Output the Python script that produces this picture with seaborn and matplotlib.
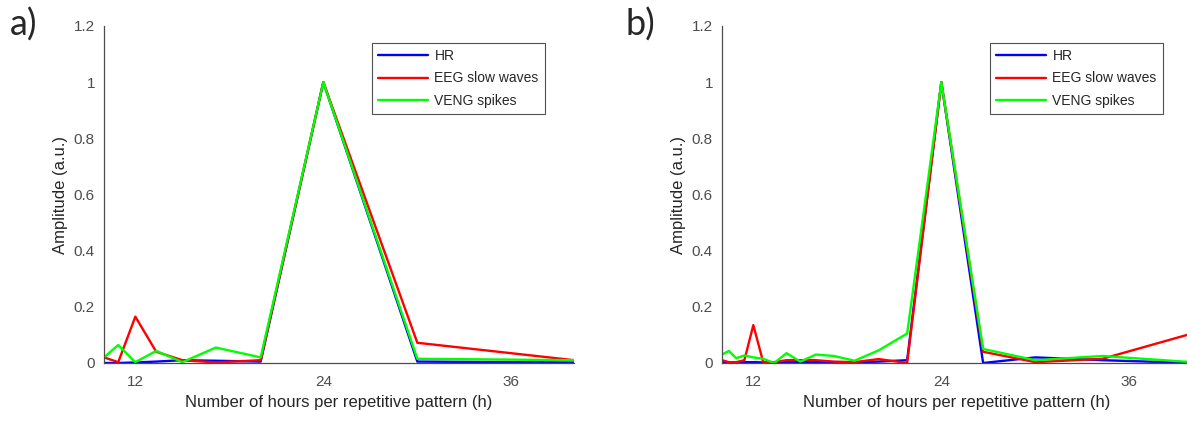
import pandas as pd
import matplotlib.pyplot as plt
import seaborn as sns

# --- data: period (h) = recording length / harmonic ---
horas_a = [120 / n for n in [12, 11, 10, 9, 8, 7, 6, 5, 4, 3]]
hr_a = [0.0, 0.0, 0.002, 0.005, 0.01, 0.008, 0.005, 1.0, 0.005, 0.002]
eeg_a = [0.02, 0.003, 0.165, 0.04, 0.01, 0.002, 0.01, 1.0, 0.072, 0.01]
veng_a = [0.02, 0.064, 0.003, 0.043, 0.003, 0.055, 0.02, 1.0, 0.015, 0.01]

horas_b = [240 / n for n in range(24, 5, -1)]
hr_b = [0.005, 0.002, 0.002, 0.003, 0.003, 0.002, 0.002, 0.003, 0.003, 0.003,
        0.003, 0.002, 0.005, 0.01, 1.0, 0.0, 0.02, 0.01, 0.0]
eeg_b = [0.01, 0.003, 0.003, 0.01, 0.135, 0.003, 0.003, 0.01, 0.01, 0.01,
         0.005, 0.003, 0.014, 0.0, 1.0, 0.04, 0.003, 0.015, 0.105]
veng_b = [0.03, 0.043, 0.017, 0.027, 0.02, 0.015, 0.0, 0.035, 0.005, 0.03,
          0.025, 0.008, 0.045, 0.105, 1.0, 0.05, 0.01, 0.025, 0.003]

series = ['HR', 'EEG slow waves', 'VENG spikes']
cores = {'HR': '#0000ff', 'EEG slow waves': '#ff0000', 'VENG spikes': '#00ff00'}


def monta_df(horas, hr, eeg, veng):
    partes = []
    for nome, vals in zip(series, [hr, eeg, veng]):
        partes.append(pd.DataFrame({'horas': horas, 'amp': vals, 'sinal': nome}))
    return pd.concat(partes, ignore_index=True)


sns.set_style('white')
plt.rcParams['font.family'] = ['Liberation Sans', 'DejaVu Sans']

W, H = 1187, 425
fig = plt.figure(figsize=(W / 100, H / 100), dpi=100)

paineis = [
    (monta_df(horas_a, hr_a, eeg_a, veng_a), 104, 'a)', 10),
    (monta_df(horas_b, hr_b, eeg_b, veng_b), 722, 'b)', 626),
]

cinza = '#4d4d4d'
for df, x0, letra, xl in paineis:
    ax = fig.add_axes([x0 / W, (H - 363) / H, 470 / W, 337 / H])
    sns.lineplot(data=df, x='horas', y='amp', hue='sinal', hue_order=series,
                 palette=cores, linewidth=1.7, ax=ax, sort=False)
    ax.set_xlim(10, 40)
    ax.set_ylim(0, 1.2)
    ax.set_xticks([12, 24, 36])
    ax.set_yticks([0, 0.2, 0.4, 0.6, 0.8, 1.0, 1.2])
    ax.set_yticklabels(['0', '0.2', '0.4', '0.6', '0.8', '1', '1.2'])
    ax.tick_params(direction='in', length=4, width=0.8, colors=cinza,
                   labelsize=11)
    ax.tick_params(axis='x', pad=9)
    ax.tick_params(axis='y', pad=6.5)
    for lado in ['top', 'right']:
        ax.spines[lado].set_visible(False)
    for lado in ['left', 'bottom']:
        ax.spines[lado].set_color(cinza)
        ax.spines[lado].set_linewidth(0.9)
    ax.set_xlabel('Number of hours per repetitive pattern (h)', fontsize=12,
                  color='#262626', labelpad=4)
    ax.set_ylabel('Amplitude (a.u.)', fontsize=12, color='#262626', labelpad=4)
    leg = ax.legend(loc='upper left', bbox_to_anchor=(0.57, 0.95), fontsize=10,
                    frameon=True, fancybox=False, handlelength=3.6,
                    labelspacing=0.6, borderpad=0.45, handletextpad=0.45,
                    borderaxespad=0)
    leg.get_frame().set_edgecolor('#262626')
    leg.get_frame().set_linewidth(0.8)
    fig.text(xl / W, 1 - 36 / H, letra, fontsize=26, family='Lato',
             ha='left', va='baseline')

fig.savefig('out.png', dpi=100)
